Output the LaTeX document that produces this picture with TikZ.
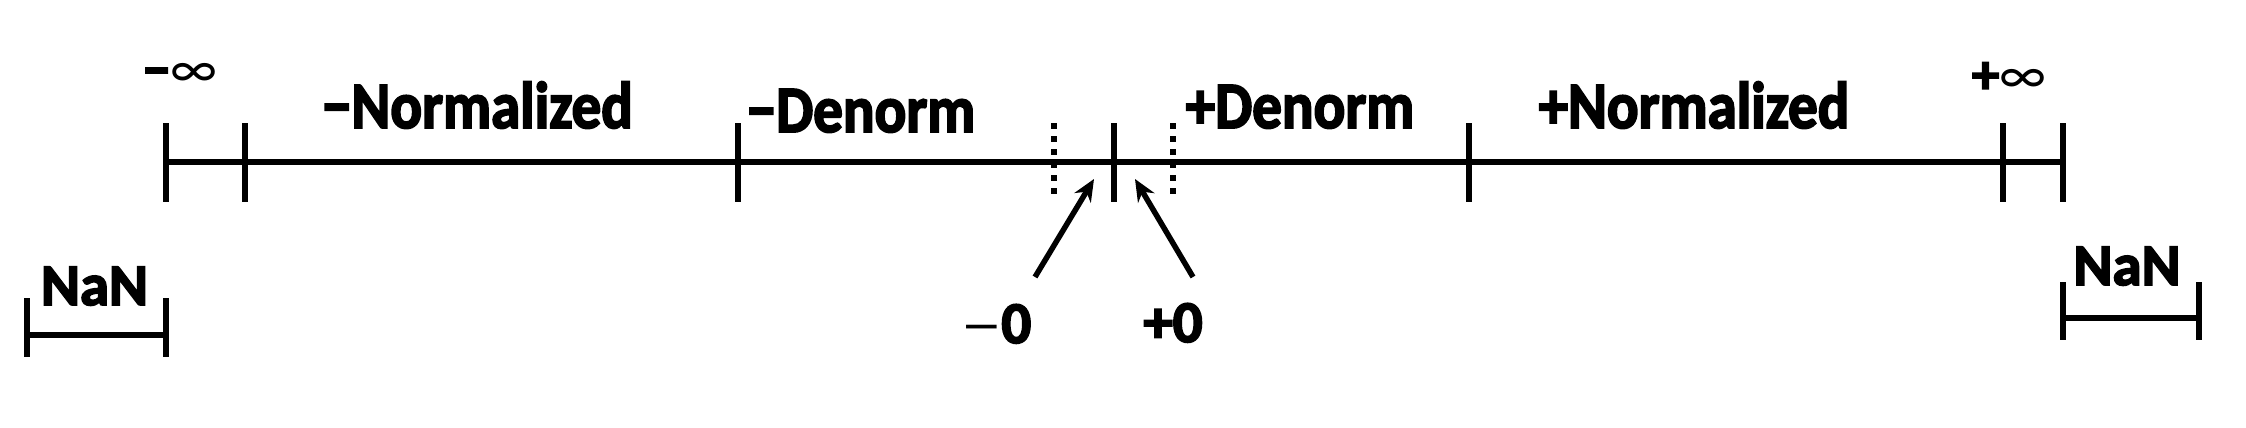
\documentclass[tikz,border=0pt]{standalone}
\usepackage{fontspec}
\setmainfont{Carlito}[BoldFeatures={FakeBold=3}]
\usetikzlibrary{arrows.meta}
\newcommand{\tallbox}[1]{\scalebox{1}[1.12]{#1}}
\begin{document}
\begin{tikzpicture}[x=1pt,y=-1pt,
  axisline/.style={line width=6pt},
  tickmark/.style={line width=6.5pt},
  dottick/.style={line width=6.5pt, dash pattern=on 5.5pt off 7.5pt},
  lbl/.style={font=\fontsize{59}{60}\selectfont\bfseries, inner sep=0pt, anchor=base},
  inflbl/.style={font=\fontsize{55}{55}\selectfont\bfseries, inner sep=0pt, anchor=base},
  ptr/.style={line width=5.5pt, -{Stealth[length=22pt,width=19pt]}}]
\useasboundingbox (0,0) rectangle (2246,428);
% main axis
\draw[axisline] (166,162) -- (2063,162);
\foreach \x in {166,245,738,1114,1469,2003,2063}
  \draw[tickmark] (\x,123) -- (\x,202);
\draw[dottick] (1054,123) -- (1054,196);
\draw[dottick] (1173,123) -- (1173,196);
% labels
\node[inflbl] (neginf) at (180,88) {−{\mdseries ∞}};
\node[inflbl] (posinf) at (2009,93) {+{\mdseries ∞}};
\node[lbl] (negnorm) at (477.5,128) {\tallbox{−Normalized}};
\node[lbl] (negden) at (861,132) {\tallbox{−Denorm}};
\node[lbl] (posden) at (1300,128) {\tallbox{+Denorm}};
\node[lbl] (posnorm) at (1694,128) {\tallbox{+Normalized}};
\node[lbl] (negzero) at (996,343) {{\mdseries\scalebox{1.45}[1]{–}}\kern-2pt 0};
\node[lbl] (poszero) at (1173,342) {+0};
% zero pointers
\coordinate (nztail) at (1035,277);
\coordinate (nztip) at (1094,179);
\coordinate (pztail) at (1193,277);
\coordinate (pztip) at (1135,179);
\draw[ptr] (nztail) -- (nztip);
\draw[ptr] (pztail) -- (pztip);
% NaN brackets
\node[lbl] (nanl) at (94.5,305) {NaN};
\draw[tickmark] (27,335) -- (166,335);
\draw[tickmark] (27,298) -- (27,357);
\draw[tickmark] (166,298) -- (166,357);
\node[lbl] (nanr) at (2127,285) {NaN};
\draw[tickmark] (2063,318) -- (2199,318);
\draw[tickmark] (2063,282) -- (2063,340);
\draw[tickmark] (2199,282) -- (2199,340);
\end{tikzpicture}
\end{document}
